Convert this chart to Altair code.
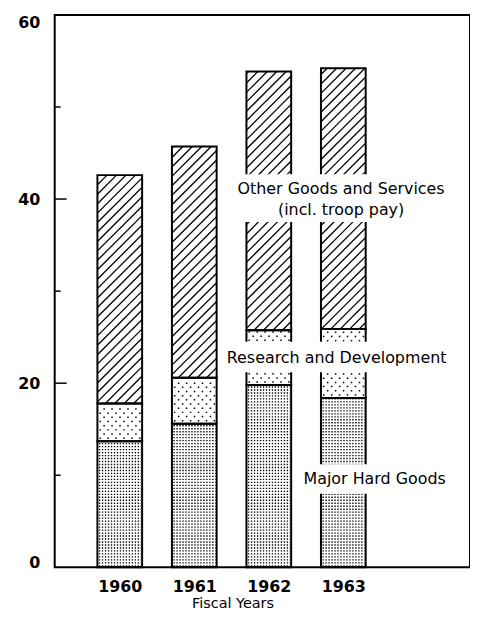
import altair as alt
import pandas as pd
import numpy as np

# ---------------- data ----------------
years = [1960, 1961, 1962, 1963]
major_hard_goods = [13.7, 15.6, 19.8, 18.4]
research_dev = [4.1, 5.0, 5.95, 7.5]
other_goods = [24.8, 25.1, 28.1, 28.3]

y_label_values = [0, 20, 40, 60]
y_major_ticks = [20, 40]
y_minor_ticks = [10, 30, 50]

label_texts = ["Other Goods and Services", "(incl. troop pay)",
               "Research and Development", "Major Hard Goods"]
label_x = [1962.97, 1962.97, 1962.91, 1963.42]
label_y = [41.1, 38.8, 22.7, 9.6]

# white gaps behind the labels (data units)
gap_x0 = [1961.57, 1961.46, 1962.46]
gap_x1 = [1964.37, 1964.37, 1964.37]
gap_y0 = [37.5, 21.2, 8.0]
gap_y1 = [42.7, 24.5, 11.2]

# ---------------- layout constants ----------------
W, H = 418, 556
XMIN = 1960 - 65.5 / 75.0
XMAX = XMIN + W / 75.0
YMAX = 60
HALF = 0.3
kx = W / (XMAX - XMIN)
ky = H / YMAX
FONT = "DejaVu Sans"

# ---------------- segments ----------------
segs = []
for i, yr in enumerate(years):
    b0 = 0.0
    b1 = major_hard_goods[i]
    b2 = b1 + research_dev[i]
    b3 = b2 + other_goods[i]
    segs.append(dict(year=yr, series="Major Hard Goods", y0=b0, y1=b1))
    segs.append(dict(year=yr, series="Research and Development", y0=b1, y1=b2))
    segs.append(dict(year=yr, series="Other Goods and Services", y0=b2, y1=b3))
seg_df = pd.DataFrame(segs)
seg_df["x0"] = seg_df["year"] - HALF
seg_df["x1"] = seg_df["year"] + HALF

# ---------------- pattern lines derived from the segments ----------------
hatch, sparse, dense = [], [], []
for _, s in seg_df.iterrows():
    x0p = (s.x0 - XMIN) * kx
    x1p = (s.x1 - XMIN) * kx
    y0p = s.y0 * ky
    y1p = s.y1 * ky
    if s.series == "Other Goods and Services":
        sp = 9.5
        kmin = int(np.floor((y0p - x1p) / sp))
        kmax = int(np.ceil((y1p - x0p) / sp))
        for k in range(kmin, kmax + 1):
            c = k * sp
            xa = max(x0p, y0p - c)
            xb = min(x1p, y1p - c)
            if xb - xa > 0.8:
                hatch.append(dict(xa=xa / kx + XMIN, xb=xb / kx + XMIN,
                                  ya=(xa + c) / ky, yb=(xb + c) / ky))
    elif s.series == "Research and Development":
        yy = y0p + 3.0
        r = 0
        while yy < y1p - 1.5:
            off = 2.0 if r % 2 == 0 else 6.0
            sparse.append(dict(xa=(x0p + off) / kx + XMIN, xb=(x1p - 1) / kx + XMIN,
                               y=yy / ky))
            yy += 4.2
            r += 1
    else:
        yy = y0p + 1.5
        while yy < y1p - 1.0:
            dense.append(dict(xa=(x0p + 1.5) / kx + XMIN, xb=(x1p - 1) / kx + XMIN,
                              y=yy / ky))
            yy += 3.0

hatch_df = pd.DataFrame(hatch)
sparse_df = pd.DataFrame(sparse)
dense_df = pd.DataFrame(dense)

xscale = alt.Scale(domain=[XMIN, XMAX], nice=False, zero=False)
yscale = alt.Scale(domain=[0, YMAX], nice=False)

base_x_axis = alt.Axis(values=years, format="d", ticks=False, domain=False, grid=False,
                       labelFont=FONT, labelFontSize=16, labelFontWeight="bold",
                       labelColor="black", labelPadding=11, labelFlush=False,
                       title="Fiscal Years", titleFont=FONT, titleFontSize=14.5,
                       titleFontWeight="normal", titleColor="black",
                       titleX=179, titleY=40, titleAnchor="start", titleAlign="center",
                       titleBaseline="alphabetic")
base_y_axis = alt.Axis(values=y_label_values, ticks=False, domain=False, grid=False,
                       labelFont=FONT, labelFontSize=16, labelFontWeight="bold",
                       labelColor="black", labelPadding=15, labelFlush=False, title=None,
                       labelBaseline=alt.expr(
                           "datum.value == 60 ? 'top' : (datum.value == 0 ? 'alphabetic' : 'middle')"))

# axes carrier (invisible rects)
axes_layer = alt.Chart(seg_df).mark_rect(opacity=0).encode(
    x=alt.X("x0:Q", scale=xscale, axis=base_x_axis),
    x2="x1:Q",
    y=alt.Y("y0:Q", scale=yscale, axis=base_y_axis),
    y2="y1:Q",
)

dense_layer = alt.Chart(dense_df).mark_rule(
    color="black", strokeWidth=1.35, strokeDash=[1.35, 1.65]
).encode(x=alt.X("xa:Q", scale=xscale), x2="xb:Q", y=alt.Y("y:Q", scale=yscale))

sparse_layer = alt.Chart(sparse_df).mark_rule(
    color="black", strokeWidth=1.5, strokeDash=[1.5, 6.5]
).encode(x=alt.X("xa:Q", scale=xscale), x2="xb:Q", y=alt.Y("y:Q", scale=yscale))

hatch_layer = alt.Chart(hatch_df).mark_rule(color="black", strokeWidth=1.3).encode(
    x=alt.X("xa:Q", scale=xscale), x2="xb:Q",
    y=alt.Y("ya:Q", scale=yscale), y2="yb:Q")

outline_layer = alt.Chart(seg_df).mark_rect(
    fillOpacity=0, stroke="black", strokeWidth=2
).encode(x=alt.X("x0:Q", scale=xscale), x2="x1:Q",
         y=alt.Y("y0:Q", scale=yscale), y2="y1:Q")

gap_df = pd.DataFrame(dict(x0=gap_x0, x1=gap_x1, y0=gap_y0, y1=gap_y1))
gap_layer = alt.Chart(gap_df).mark_rect(color="white").encode(
    x=alt.X("x0:Q", scale=xscale), x2="x1:Q",
    y=alt.Y("y0:Q", scale=yscale), y2="y1:Q")

lab_df = pd.DataFrame(dict(text=label_texts, x=label_x, y=label_y))
text_layer = alt.Chart(lab_df).mark_text(
    font=FONT, fontSize=16, color="black", align="center", baseline="middle"
).encode(x=alt.X("x:Q", scale=xscale), y=alt.Y("y:Q", scale=yscale), text="text:N")

major_tick_layer = alt.Chart(pd.DataFrame(dict(v=y_major_ticks))).mark_rule(
    color="black", strokeWidth=1.5
).encode(y=alt.Y("v:Q", scale=yscale), x=alt.value(0), x2=alt.value(12))

minor_tick_layer = alt.Chart(pd.DataFrame(dict(v=y_minor_ticks))).mark_rule(
    color="black", strokeWidth=1.5
).encode(y=alt.Y("v:Q", scale=yscale), x=alt.value(0), x2=alt.value(6))

chart = alt.layer(
    axes_layer, dense_layer, sparse_layer, hatch_layer, outline_layer,
    gap_layer, text_layer, major_tick_layer, minor_tick_layer
).properties(
    width=W, height=H,
    autosize=alt.AutoSizeParams(type="none"),
    padding={"left": 47, "top": 5, "right": 0, "bottom": 44},
    background="white",
).configure_view(stroke="black", strokeWidth=2)

chart.save("out.html", embed_options={"renderer": "svg", "actions": False})
